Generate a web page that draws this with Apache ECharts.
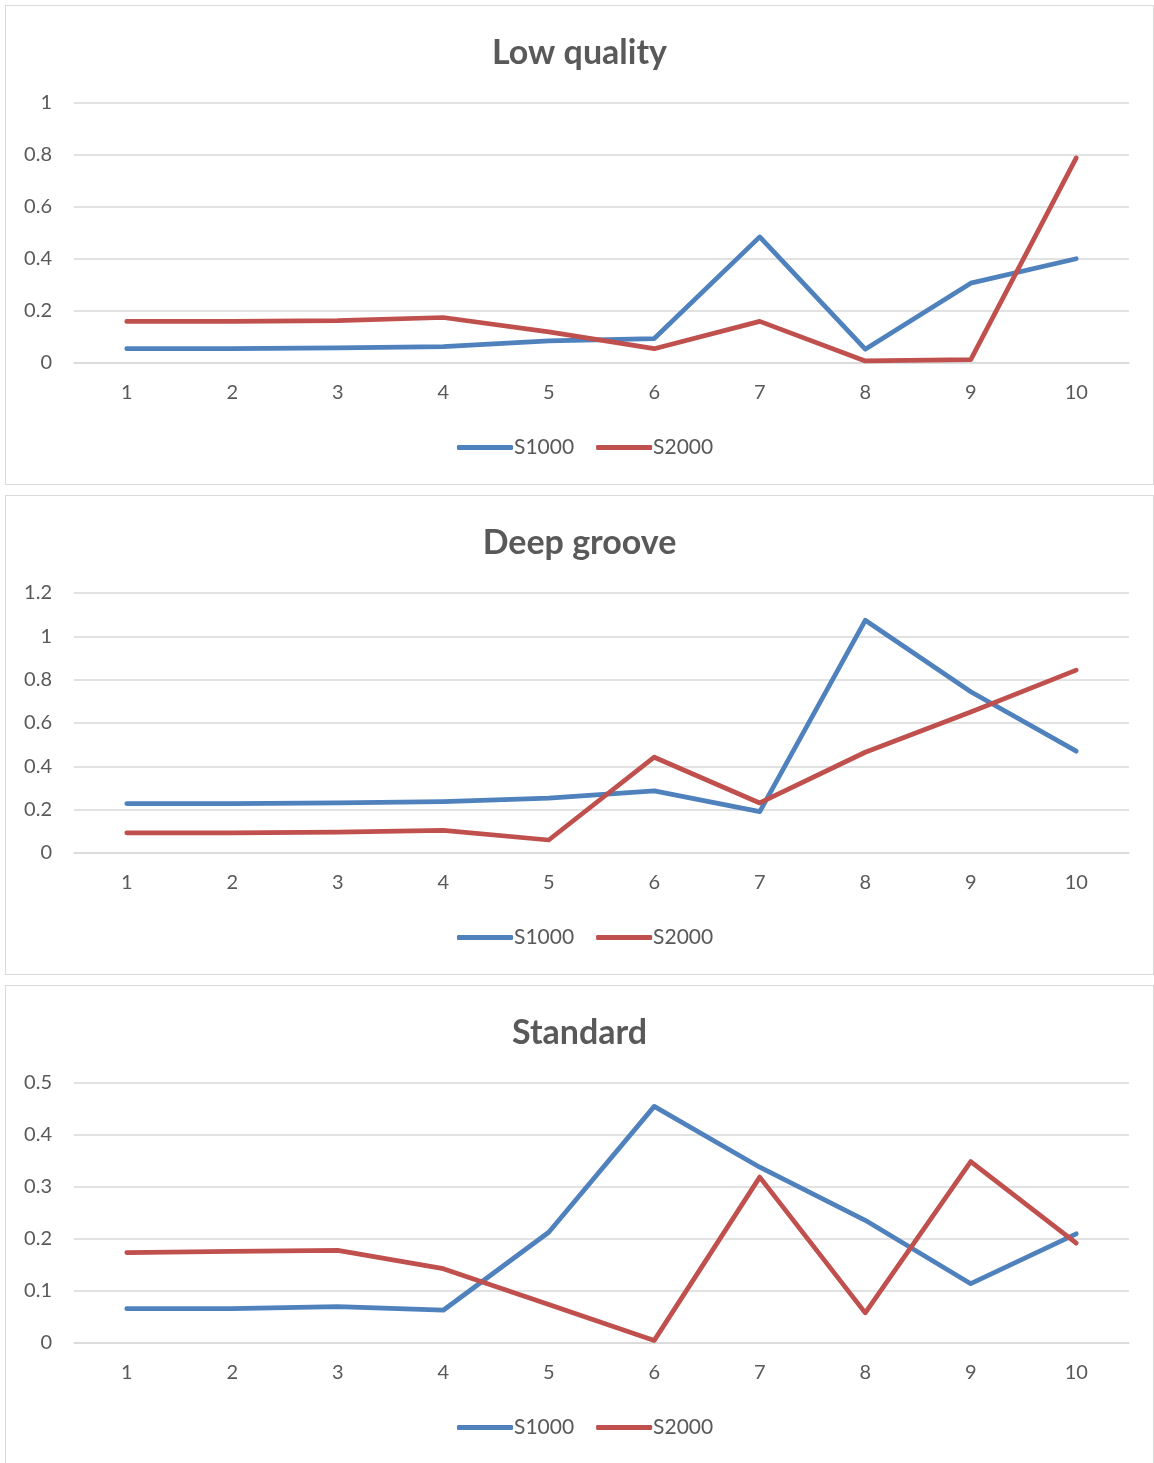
<!DOCTYPE html>
<html>
<head>
<meta charset="utf-8">
<script src="https://cdn.jsdelivr.net/npm/echarts@6/dist/echarts.min.js"></script>
<style>
  html, body { margin: 0; padding: 0; background: #ffffff; }
  body { width: 1154px; height: 1463px; position: relative; overflow: hidden; }
  .panel { position: absolute; left: 5px; width: 1147px; height: 478px; border: 1.5px solid #d9d9d9; background: #fff; }
</style>
</head>
<body>
<div class="panel" id="p1" style="top:5px"></div>
<div class="panel" id="p2" style="top:495px"></div>
<div class="panel" id="p3" style="top:985px"></div>
<script>
// Shared x categories
const categories = ['1', '2', '3', '4', '5', '6', '7', '8', '9', '10'];
const seriesNames = ['S1000', 'S2000'];

// Low quality
const lowS1000 = [0.055, 0.055, 0.058, 0.063, 0.085, 0.094, 0.485, 0.053, 0.307, 0.401];
const lowS2000 = [0.160, 0.160, 0.163, 0.175, 0.120, 0.055, 0.160, 0.008, 0.013, 0.789];

// Deep groove
const deepS1000 = [0.228, 0.228, 0.231, 0.237, 0.253, 0.287, 0.191, 1.074, 0.744, 0.470];
const deepS2000 = [0.093, 0.093, 0.096, 0.104, 0.060, 0.442, 0.231, 0.465, 0.651, 0.844];

// Standard
const stdS1000 = [0.066, 0.066, 0.070, 0.063, 0.213, 0.455, 0.338, 0.236, 0.114, 0.210];
const stdS2000 = [0.174, 0.176, 0.178, 0.143, 0.074, 0.005, 0.319, 0.058, 0.349, 0.192];

const colors = ['#4f81bd', '#c0504d'];
const textColor = '#595959';
const gridColor = '#d9d9d9';
const font = 'Lato, "Open Sans", sans-serif';

function drawPanel(id, title, s1, s2, yMax, yInterval) {
  const chart = echarts.init(document.getElementById(id), null, { renderer: 'canvas' });
  chart.setOption({
    animation: false,
    color: colors,
    title: {
      text: title,
      left: 'center',
      top: 25,
      textStyle: { fontFamily: font, fontSize: 34, fontWeight: 'bold', color: textColor }
    },
    grid: { left: 68, right: 24, top: 97, bottom: 121 },
    legend: {
      data: seriesNames,
      left: 446,
      top: 426,
      icon: 'roundRect',
      itemWidth: 56,
      itemHeight: 5,
      itemGap: 22,
      textStyle: { fontFamily: font, fontSize: 21, color: textColor, padding: [0, 0, 0, -4] }
    },
    xAxis: {
      type: 'category',
      data: categories,
      boundaryGap: true,
      axisLine: { show: true, lineStyle: { color: gridColor, width: 1.5 } },
      axisTick: { show: false },
      axisLabel: { fontFamily: font, fontSize: 20, color: textColor, margin: 20 }
    },
    yAxis: {
      type: 'value',
      min: 0,
      max: yMax,
      interval: yInterval,
      axisLine: { show: false },
      axisTick: { show: false },
      splitLine: { lineStyle: { color: gridColor, width: 1.5 } },
      axisLabel: { fontFamily: font, fontSize: 20, color: textColor, margin: 22 }
    },
    series: [
      { name: seriesNames[0], type: 'line', data: s1, symbol: 'none',
        lineStyle: { width: 4.75, cap: 'round', join: 'round' } },
      { name: seriesNames[1], type: 'line', data: s2, symbol: 'none',
        lineStyle: { width: 4.75, cap: 'round', join: 'round' } }
    ]
  });
}

drawPanel('p1', 'Low quality', lowS1000, lowS2000, 1, 0.2);
drawPanel('p2', 'Deep groove', deepS1000, deepS2000, 1.2, 0.2);
drawPanel('p3', 'Standard', stdS1000, stdS2000, 0.5, 0.1);
</script>
</body>
</html>
